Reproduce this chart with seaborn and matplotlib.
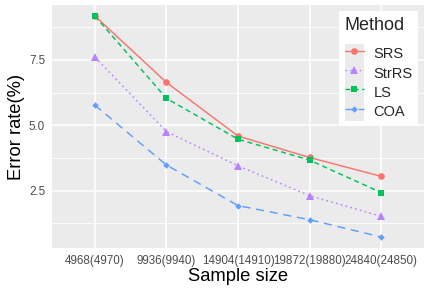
import matplotlib
matplotlib.use("Agg")
import matplotlib.pyplot as plt
import seaborn as sns
import pandas as pd
from matplotlib.lines import Line2D
from matplotlib.patches import Rectangle
from matplotlib.legend_handler import HandlerTuple
from matplotlib.colors import to_hex

sample_sizes = ["4968(4970)", "9936(9940)", "14904(14910)", "19872(19880)", "24840(24850)"]
methods = ["SRS", "StrRS", "LS", "COA"]
srs = [9.18, 6.64, 4.59, 3.77, 3.05]
strrs = [7.61, 4.76, 3.45, 2.31, 1.52]
ls = [9.18, 6.03, 4.47, 3.67, 2.43]
coa = [5.77, 3.48, 1.93, 1.39, 0.73]

colors = {"SRS": "#F8766D", "StrRS": "#B983FF", "LS": "#00C15A", "COA": "#619CFF"}
markers = {"SRS": "o", "StrRS": "^", "LS": "s", "COA": "D"}
msizes = {"SRS": 4.8, "StrRS": 5.4, "LS": 4.6, "COA": 3.3}
dashes = {"SRS": "", "StrRS": (1.2, 2.2), "LS": (3.5, 2.5), "COA": (5.5, 4.0)}

rows = []
for m, vals in zip(methods, [srs, strrs, ls, coa]):
    for s, v in zip(sample_sizes, vals):
        rows.append({"Sample size": s, "Error rate": v, "Method": m})
df = pd.DataFrame(rows)

sns.set_theme(style="darkgrid")
plt.rcParams["font.family"] = ["Liberation Sans", "DejaVu Sans"]

fig = plt.figure(figsize=(4.29, 2.91), dpi=100)
W, H = 429, 291
ax = fig.add_axes([52 / W, (H - 248) / H, (424 - 52) / W, (248 - 5) / H])
ax.set_facecolor("#EBEBEB")

sns.lineplot(data=df, x="Sample size", y="Error rate", hue="Method", style="Method",
             hue_order=methods, style_order=methods, palette=colors,
             markers=markers, dashes=dashes, sort=False, linewidth=1.05,
             markeredgewidth=0, markersize=4.6, legend=False, ax=ax)

hex2m = {to_hex(c).lower(): m for m, c in colors.items()}
for line in ax.lines:
    m = hex2m.get(to_hex(line.get_color()).lower())
    if m:
        line.set_markersize(msizes[m])

allv = srs + strrs + ls + coa
lo, hi = min(allv), max(allv)
pad = 0.05 * (hi - lo)
ax.set_ylim(lo - pad, hi + pad)
ax.set_xlim(-0.6, len(sample_sizes) - 0.4)
ax.set_yticks([2.5, 5.0, 7.5])
ax.set_yticklabels(["2.5", "5.0", "7.5"])
ax.set_yticks([1.25, 3.75, 6.25, 8.75], minor=True)
ax.grid(True, which="major", color="white", linewidth=1.1)
ax.grid(True, which="minor", axis="y", color="white", linewidth=0.55)
ax.grid(False, which="minor", axis="x")
ax.set_axisbelow(True)
for sp in ax.spines.values():
    sp.set_visible(False)
ax.tick_params(axis="both", which="major", length=3, width=0.8, color="#333333",
               labelsize=8.4, labelcolor="#4D4D4D", pad=2, direction="out")
ax.tick_params(axis="both", which="minor", length=0)
ax.set_xlabel("Sample size", fontsize=13.2, color="black", labelpad=1)
ax.set_ylabel("Error rate(%)", fontsize=13.2, color="black", labelpad=3)

handles = []
for m in methods:
    bg = Rectangle((0, 0), 1, 1, facecolor="#EBEBEB", edgecolor="none")
    ln = Line2D([0], [0], color=colors[m], marker=markers[m], markersize=msizes[m],
                markeredgewidth=0, linewidth=1.0)
    if dashes[m]:
        ln.set_dashes(dashes[m])
    handles.append((bg, ln))

leg = fig.legend(handles, methods, title="Method", loc="upper left",
                 bbox_to_anchor=(339 / W, 1 - 11 / H), frameon=True,
                 facecolor="white", edgecolor="none", framealpha=1,
                 fontsize=10.5, title_fontsize=13, handlelength=1.3,
                 handleheight=1.64, labelspacing=0.0, handletextpad=0.69,
                 borderpad=0.38, borderaxespad=0, alignment="left",
                 handler_map={tuple: HandlerTuple(ndivide=1, pad=0)})
leg.get_frame().set_boxstyle("square", pad=0)
leg._legend_box.sep = 7.6

fig.savefig("out.png", dpi=100)
